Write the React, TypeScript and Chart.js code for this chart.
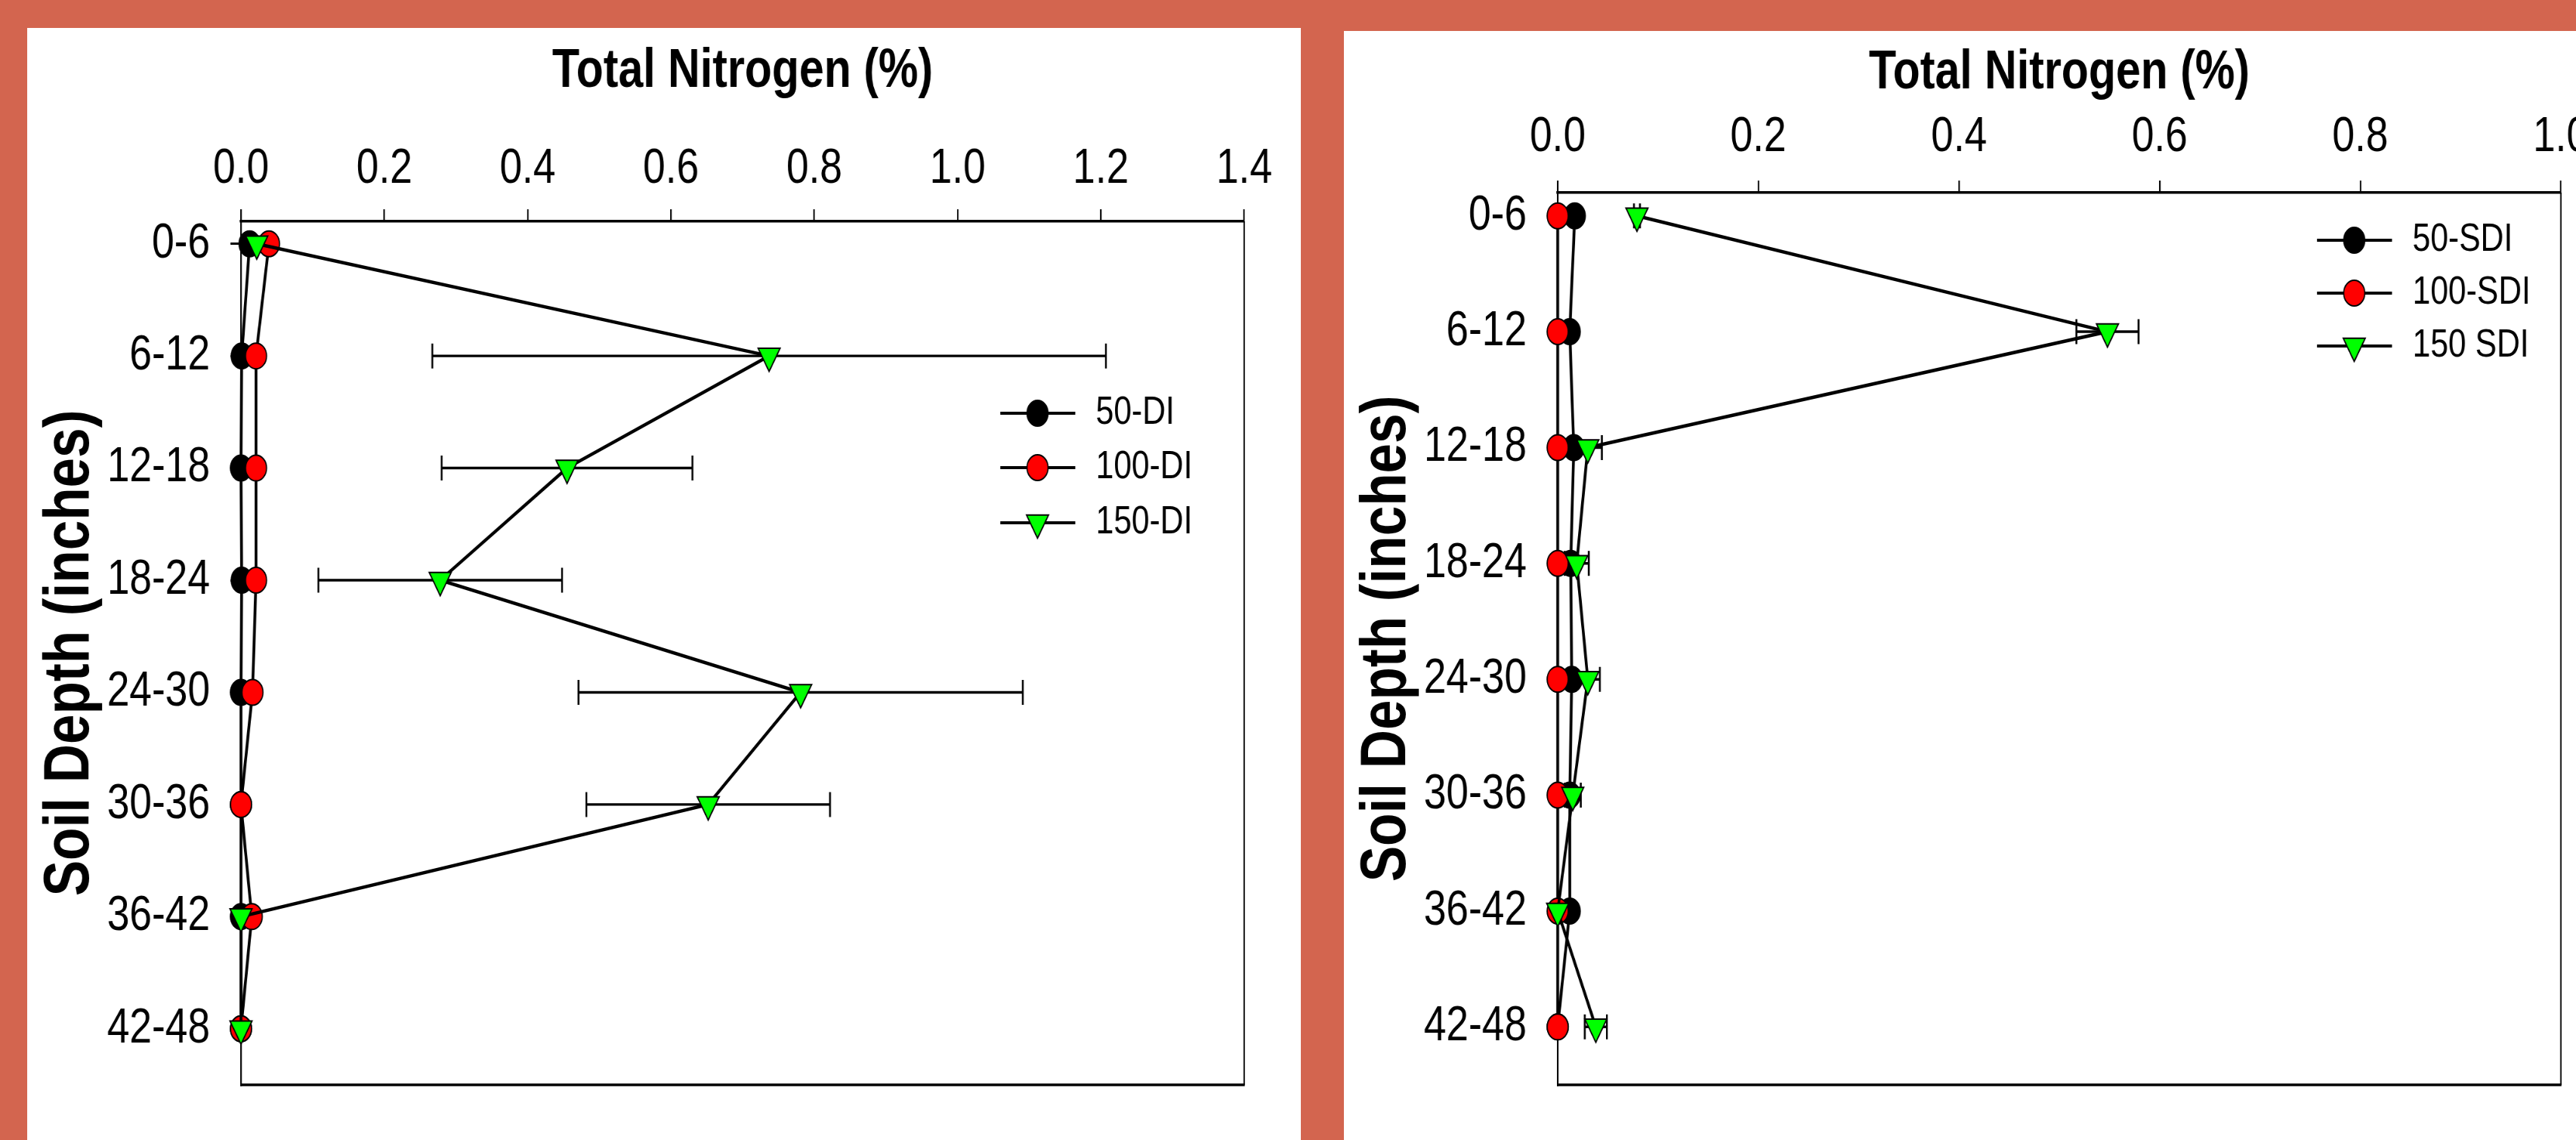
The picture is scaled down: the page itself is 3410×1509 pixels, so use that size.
import React, { useEffect, useRef } from "react";
import { Chart, registerables } from "chart.js";

Chart.register(...registerables);

const FONT = '"Liberation Sans", Arial, Helvetica, sans-serif';
// the reference figure is squeezed horizontally; the canvas is drawn wider and scaled back with CSS
const SQUEEZE = 0.82;

// ---------------- data ----------------
const depthLabels = ["0-6", "6-12", "12-18", "18-24", "24-30", "30-36", "36-42", "42-48"];

const leftXTickLabels = ["0.0", "0.2", "0.4", "0.6", "0.8", "1.0", "1.2", "1.4"];
const rightXTickLabels = ["0.0", "0.2", "0.4", "0.6", "0.8", "1.0"];

const xAxisTitle = "Total Nitrogen (%)";
const yAxisTitle = "Soil Depth (inches)";

const leftSeriesNames = ["50-DI", "100-DI", "150-DI"];
const rightSeriesNames = ["50-SDI", "100-SDI", "150 SDI"];

const di50 = [0.012, 0.001, 0.0, 0.001, 0.0, 0.0, 0.0, 0.0];
const di100 = [0.039, 0.021, 0.021, 0.021, 0.016, 0.0, 0.015, 0.0];
const di150 = [0.022, 0.737, 0.455, 0.278, 0.781, 0.652, 0.0, 0.0];
const di150Err = [0.0, 0.47, 0.175, 0.17, 0.31, 0.17, 0.0, 0.0];

const sdi50 = [0.017, 0.012, 0.016, 0.013, 0.014, 0.012, 0.012, 0.0];
const sdi100 = [0.0, 0.0, 0.0, 0.0, 0.0, 0.0, 0.0, 0.0];
const sdi150 = [0.079, 0.548, 0.03, 0.019, 0.03, 0.015, 0.0, 0.038];
const sdi150Err = [0.003, 0.031, 0.014, 0.012, 0.012, 0.008, 0.0, 0.011];

const markerColors = ["#000000", "#ff0000", "#00ff00"];
const markerStyles = ["circle", "circle", "triangle"];

// ---------------- helpers ----------------
function drawMarker(ctx: CanvasRenderingContext2D, style: string, color: string, x: number, y: number) {
  ctx.save();
  ctx.beginPath();
  if (style === "triangle") {
    const r = 20.5;
    const s = Math.sin(Math.PI / 3) * r;
    ctx.moveTo(x, y + r);
    ctx.lineTo(x - s, y - r / 2);
    ctx.lineTo(x + s, y - r / 2);
    ctx.closePath();
  } else {
    ctx.arc(x, y, 17, 0, Math.PI * 2);
    ctx.closePath();
  }
  ctx.fillStyle = color;
  ctx.fill();
  ctx.lineWidth = 2;
  ctx.strokeStyle = "#000";
  ctx.stroke();
  ctx.restore();
}

const errorBarPlugin = {
  id: "errorBars",
  beforeDatasetsDraw(chart: any) {
    const { ctx } = chart;
    const xs = chart.scales.x;
    const ys = chart.scales.y;
    chart.data.datasets.forEach((ds: any) => {
      if (!ds.errors) return;
      ctx.save();
      ctx.strokeStyle = "#000";
      ds.data.forEach((p: any, i: number) => {
        const e = ds.errors[i];
        if (!e) return;
        const y = ys.getPixelForValue(p.y);
        const x1 = xs.getPixelForValue(p.x - e);
        const x2 = xs.getPixelForValue(p.x + e);
        ctx.lineWidth = 3.4;
        ctx.beginPath();
        ctx.moveTo(x1, y);
        ctx.lineTo(x2, y);
        ctx.stroke();
        ctx.lineWidth = 3;
        ctx.beginPath();
        ctx.moveTo(x1, y - 16.5);
        ctx.lineTo(x1, y + 16.5);
        ctx.moveTo(x2, y - 16.5);
        ctx.lineTo(x2, y + 16.5);
        ctx.stroke();
      });
      ctx.restore();
    });
  },
};

const framePlugin = {
  id: "frameLines",
  beforeDatasetsDraw(chart: any) {
    const { ctx, chartArea } = chart;
    ctx.save();
    ctx.strokeStyle = "#000";
    ctx.lineWidth = 2.4;
    ctx.beginPath();
    ctx.moveTo(chartArea.right, chartArea.top);
    ctx.lineTo(chartArea.right, chartArea.bottom);
    ctx.stroke();
    ctx.lineWidth = 3.5;
    ctx.beginPath();
    ctx.moveTo(chartArea.left - 1, chartArea.bottom);
    ctx.lineTo(chartArea.right + 1, chartArea.bottom);
    ctx.stroke();
    ctx.restore();
  },
};

const sideLegendPlugin = {
  id: "sideLegend",
  afterDraw(chart: any, _args: any, opts: any) {
    const { ctx, chartArea } = chart;
    chart.data.datasets.forEach((ds: any, i: number) => {
      const y = chartArea.top + opts.rows[i];
      ctx.save();
      ctx.strokeStyle = "#000";
      ctx.lineWidth = 4.2;
      ctx.beginPath();
      ctx.moveTo(opts.lineStart, y);
      ctx.lineTo(opts.lineEnd, y);
      ctx.stroke();
      ctx.restore();
      drawMarker(ctx, ds.markerStyle, ds.markerColor, opts.markerX, y);
      ctx.save();
      ctx.fillStyle = "#000";
      ctx.font = `${opts.fontSize}px ${FONT}`;
      ctx.textBaseline = "middle";
      ctx.textAlign = "left";
      ctx.fillText(ds.label, opts.textX, y);
      ctx.restore();
    });
  },
};

const yTitlePlugin = {
  id: "yTitle",
  afterDraw(chart: any, _args: any, opts: any) {
    const { ctx, chartArea } = chart;
    ctx.save();
    ctx.translate(opts.x, (chartArea.top + chartArea.bottom) / 2);
    ctx.rotate(-Math.PI / 2);
    ctx.scale(opts.stretch, 1);
    ctx.font = `bold ${opts.fontSize}px ${FONT}`;
    ctx.fillStyle = "#000";
    ctx.textAlign = "center";
    ctx.textBaseline = "middle";
    ctx.fillText(opts.text, 0, 0);
    ctx.restore();
  },
};

// ---------------- chart panel ----------------
type PanelSpec = {
  left: number;
  top: number;
  width: number;
  height: number;
  axisTop: number;
  areaBottom: number;
  areaLeft: number;
  areaRight: number;
  titleSize: number;
  titlePad: number;
  tickPad: number;
  xTickLabels: string[];
  names: string[];
  values: number[][];
  errors: (number[] | null)[];
  legendRows: number[];
};

function Panel({ spec }: { spec: PanelSpec }) {
  const ref = useRef<HTMLCanvasElement | null>(null);
  const canvasW = Math.round(spec.width / SQUEEZE);
  const canvasH = spec.height;

  useEffect(() => {
    if (!ref.current) return;
    const tickValues = spec.xTickLabels.map((t) => Number(t));
    const datasets = spec.names.map((name, k) => ({
      label: name,
      data: spec.values[k].map((v, i) => ({ x: v, y: i })),
      errors: spec.errors[k],
      markerStyle: markerStyles[k],
      markerColor: markerColors[k],
      showLine: true,
      borderColor: "#000",
      borderWidth: 4.5,
      pointStyle: markerStyles[k],
      pointRotation: markerStyles[k] === "triangle" ? 180 : 0,
      pointRadius: markerStyles[k] === "triangle" ? 20.5 : 17,
      pointHoverRadius: markerStyles[k] === "triangle" ? 20.5 : 17,
      pointBackgroundColor: markerColors[k],
      pointBorderColor: "#000",
      pointBorderWidth: 2,
      order: 3 - k,
      clip: false,
      tension: 0,
    }));

    const chart = new Chart(ref.current, {
      type: "scatter",
      data: { datasets } as any,
      plugins: [errorBarPlugin, framePlugin, sideLegendPlugin, yTitlePlugin],
      options: {
        responsive: false,
        animation: false,
        devicePixelRatio: 1,
        events: [],
        layout: {
          autoPadding: false,
          padding: {
            left: 0,
            top: 0,
            right: canvasW - spec.areaRight / SQUEEZE,
            bottom: canvasH - spec.areaBottom,
          },
        },
        plugins: {
          legend: { display: false },
          tooltip: { enabled: false },
          sideLegend: {
            rows: spec.legendRows,
            lineStart: 1571,
            lineEnd: 1692,
            markerX: 1631,
            textX: 1725,
            fontSize: 52,
          },
          yTitle: { text: yAxisTitle, x: 71, fontSize: 103, stretch: 0.69 },
        } as any,
        scales: {
          x: {
            type: "linear",
            position: "top",
            min: tickValues[0],
            max: tickValues[tickValues.length - 1],
            afterBuildTicks: (s: any) => {
              s.ticks = tickValues.map((v) => ({ value: v }));
            },
            afterFit: (s: any) => {
              s.height = spec.axisTop;
            },
            ticks: {
              autoSkip: false,
              maxRotation: 0,
              color: "#000",
              padding: spec.tickPad,
              font: { family: FONT, size: 65 },
              callback: (_v: any, i: number) => spec.xTickLabels[i],
            },
            grid: {
              drawOnChartArea: false,
              drawTicks: true,
              tickLength: 16,
              color: "#000",
              lineWidth: 2.4,
            },
            border: { display: true, color: "#000", width: 3.5 },
            title: {
              display: true,
              text: xAxisTitle,
              color: "#000",
              font: { family: FONT, size: spec.titleSize, weight: "bold" },
              padding: { top: spec.titlePad, bottom: 0 },
            },
          },
          y: {
            type: "linear",
            position: "left",
            reverse: true,
            min: -0.2,
            max: 7.5,
            afterBuildTicks: (s: any) => {
              s.ticks = depthLabels.map((_l, i) => ({ value: i }));
            },
            afterFit: (s: any) => {
              s.width = spec.areaLeft / SQUEEZE;
            },
            ticks: {
              autoSkip: false,
              color: "#000",
              padding: 33,
              font: { family: FONT, size: 65 },
              callback: (_v: any, i: number) => depthLabels[i],
            },
            grid: {
              drawOnChartArea: false,
              drawTicks: true,
              tickLength: 17,
              color: "#000",
              lineWidth: 3,
            },
            border: { display: true, color: "#000", width: 2.4 },
            title: { display: false },
          },
        } as any,
      },
    } as any);
    return () => chart.destroy();
  }, []);

  return (
    <div
      style={{
        position: "absolute",
        left: spec.left + "px",
        top: spec.top + "px",
        width: spec.width + "px",
        height: spec.height + "px",
        background: "#ffffff",
        overflow: "hidden",
      }}
    >
      <canvas
        ref={ref}
        width={canvasW}
        height={canvasH}
        style={{
          display: "block",
          width: canvasW + "px",
          height: canvasH + "px",
          transform: `scaleX(${SQUEEZE})`,
          transformOrigin: "0 0",
        }}
      />
    </div>
  );
}

const leftSpec: PanelSpec = {
  left: 36,
  top: 37,
  width: 1686,
  height: 1472,
  axisTop: 256,
  areaBottom: 1399,
  areaLeft: 283,
  areaRight: 1611,
  titleSize: 72,
  titlePad: 15,
  tickPad: 13.5,
  xTickLabels: leftXTickLabels,
  names: leftSeriesNames,
  values: [di50, di100, di150],
  errors: [null, null, di150Err],
  legendRows: [254, 326, 399],
};

const rightSpec: PanelSpec = {
  left: 1779,
  top: 41,
  width: 1686,
  height: 1468,
  axisTop: 214,
  areaBottom: 1395,
  areaLeft: 283,
  areaRight: 1611,
  titleSize: 72,
  titlePad: 13,
  tickPad: 17.5,
  xTickLabels: rightXTickLabels,
  names: rightSeriesNames,
  values: [sdi50, sdi100, sdi150],
  errors: [null, null, sdi150Err],
  legendRows: [63, 133, 203],
};

export default function App() {
  return (
    <div
      style={{
        position: "fixed",
        left: 0,
        top: 0,
        width: "3410px",
        height: "1509px",
        background: "#d3654f",
        overflow: "hidden",
      }}
    >
      <Panel spec={leftSpec} />
      <Panel spec={rightSpec} />
    </div>
  );
}
